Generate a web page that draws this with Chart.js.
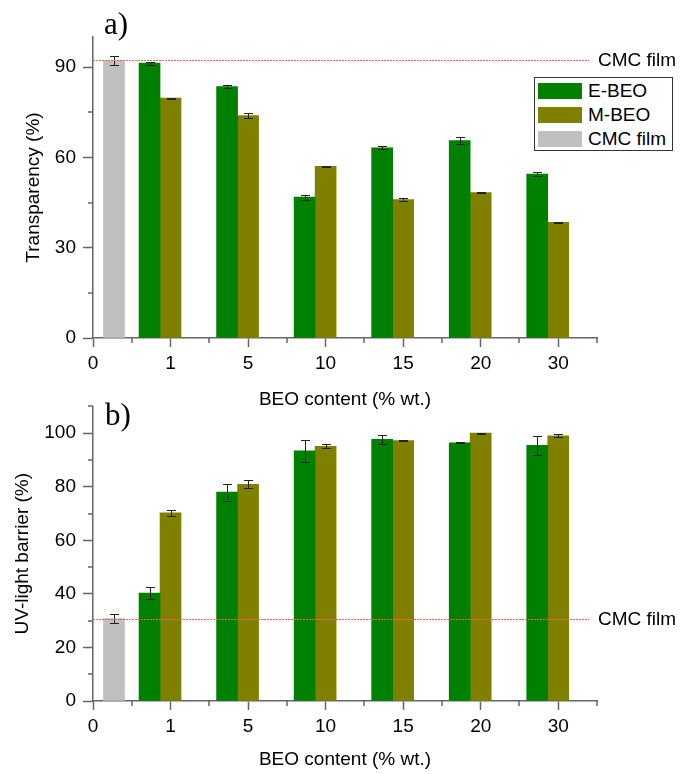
<!DOCTYPE html>
<html><head><meta charset="utf-8">
<script src="https://cdn.jsdelivr.net/npm/chart.js@4.4.1/dist/chart.umd.min.js"></script>
<style>
body{margin:0;background:#fff;width:680px;height:774px;position:relative;overflow:hidden;font-family:"Liberation Sans",Arial,sans-serif;}
.wrap{position:absolute;left:0;width:680px;}
#wa{top:0;height:415px;}
#wb{top:388px;height:386px;}
canvas{display:block;}
.panel{position:absolute;font-family:"Liberation Serif","Times New Roman",serif;font-size:31px;line-height:31px;color:#000;}
.legend{position:absolute;left:534px;top:77px;width:137px;height:72px;border:1px solid #333;background:#fff;font-size:19px;color:#000;}
.legend .row{position:absolute;left:3px;height:24px;}
.legend .sw{position:absolute;left:0;top:4px;width:44px;height:16px;}
.legend .tx{position:absolute;left:50px;top:0;line-height:24px;white-space:nowrap;}
</style>
</head><body>
<div class="wrap" id="wa"><canvas id="ca" width="680" height="415"></canvas></div>
<div class="wrap" id="wb"><canvas id="cb" width="680" height="386"></canvas></div>
<div class="panel" style="left:104px;top:8px;">a)</div>
<div class="panel" style="left:105px;top:399px;">b)</div>
<div class="legend" id="legend"></div>
<script>
// ---- data ----
const tickLabels = ['0', '1', '5', '10', '15', '20', '30'];
const beoLevels = ['1', '5', '10', '15', '20', '30'];
const seriesNames = ['E-BEO', 'M-BEO', 'CMC film'];

const transE = [91.3, 83.5, 46.8, 63.2, 65.6, 54.5];
const transEErr = [0.5, 0.6, 0.8, 0.5, 1.3, 0.7];
const transM = [79.7, 73.9, 57.0, 46.0, 48.3, 38.4];
const transMErr = [0.2, 0.8, 0.2, 0.5, 0.15, 0.1];
const transCMC = 92.2;
const transCMCErr = 1.4;

const uvE = [40.3, 78.0, 93.4, 97.7, 96.4, 95.5];
const uvEErr = [2.1, 3.2, 4.1, 1.6, 0.15, 3.6];
const uvM = [70.3, 80.9, 95.1, 97.2, 100.0, 99.0];
const uvMErr = [1.2, 1.5, 0.8, 0.15, 0.15, 0.6];
const uvCMC = 30.8;
const uvCMCErr = 1.8;

const transAxis = {max: 100, major: 30, minor: 15};
const uvAxis = {max: 110, major: 20, minor: 10};

// ---- styles ----
const colors = ['#008000', '#808000', '#c0c0c0'];
const FONT = '"Liberation Sans", Arial, sans-serif';
const AX = '#666';
Chart.defaults.font.family = FONT;
Chart.defaults.font.size = 19;
Chart.defaults.color = '#000';

const errorBars = {
  id: 'errorBars',
  afterDatasetsDraw(chart) {
    const {ctx} = chart;
    const ys = chart.scales.y;
    chart.data.datasets.forEach((ds, di) => {
      if (!ds.errors) return;
      const meta = chart.getDatasetMeta(di);
      meta.data.forEach((bar, i) => {
        const v = ds.data[i].y, e = ds.errors[i];
        const yt = Math.round(ys.getPixelForValue(v + e)) + 0.5;
        const yb = Math.round(ys.getPixelForValue(v - e)) + 0.5;
        const x = Math.round(bar.x) + 0.5;
        ctx.save();
        ctx.strokeStyle = '#222';
        ctx.lineWidth = 1;
        ctx.beginPath();
        ctx.moveTo(x, yt); ctx.lineTo(x, yb);
        ctx.moveTo(x - 4.5, yt); ctx.lineTo(x + 4.5, yt);
        ctx.moveTo(x - 4.5, yb); ctx.lineTo(x + 4.5, yb);
        ctx.stroke();
        ctx.restore();
      });
    });
  }
};

const refLine = {
  id: 'refLine',
  afterDatasetsDraw(chart, args, opts) {
    const {ctx, chartArea} = chart;
    const y = Math.round(chart.scales.y.getPixelForValue(opts.value)) + 0.5;
    ctx.save();
    ctx.strokeStyle = '#ff5a5a';
    ctx.lineWidth = 1;
    ctx.setLineDash([2, 1]);
    ctx.beginPath();
    ctx.moveTo(chartArea.left, y);
    ctx.lineTo(chartArea.right - 8, y);
    ctx.stroke();
    ctx.setLineDash([]);
    ctx.fillStyle = '#000';
    ctx.font = '19px ' + FONT;
    ctx.textBaseline = 'middle';
    ctx.textAlign = 'left';
    ctx.fillText(opts.label, chartArea.right + 1, y);
    ctx.restore();
  }
};

const minorTicks = {
  id: 'minorTicks',
  afterDraw(chart, args, opts) {
    const {ctx, chartArea} = chart;
    const xs = chart.scales.x, ys = chart.scales.y;
    ctx.save();
    ctx.strokeStyle = AX;
    ctx.lineWidth = 1.5;
    ctx.beginPath();
    for (let v = opts.x; v <= xs.max + 1e-9; v += 2 * opts.x) {
      const px = Math.round(xs.getPixelForValue(v));
      ctx.moveTo(px, chartArea.bottom);
      ctx.lineTo(px, chartArea.bottom + opts.len);
    }
    for (let v = opts.y; v <= ys.max + 1e-9; v += 2 * opts.y) {
      const py = Math.round(ys.getPixelForValue(v));
      ctx.moveTo(chartArea.left, py);
      ctx.lineTo(chartArea.left - opts.len, py);
    }
    ctx.stroke();
    ctx.restore();
  }
};

function makeChart(canvasId, cfg) {
  const pos = (lvl) => tickLabels.indexOf(lvl);
  const datasets = [
    {label: seriesNames[0], data: beoLevels.map((l, i) => ({x: pos(l), y: cfg.e[i]})), errors: cfg.eErr, backgroundColor: colors[0]},
    {label: seriesNames[1], data: beoLevels.map((l, i) => ({x: pos(l), y: cfg.m[i]})), errors: cfg.mErr, backgroundColor: colors[1]},
    {label: seriesNames[2], data: [{x: pos('0'), y: cfg.cmc}], errors: [cfg.cmcErr], backgroundColor: colors[2]}
  ];
  return new Chart(document.getElementById(canvasId), {
    type: 'bar',
    data: {datasets},
    plugins: [errorBars, refLine, minorTicks],
    options: {
      responsive: false,
      animation: false,
      barThickness: 21,
      borderWidth: 0,
      layout: {padding: {left: 0, top: cfg.padTop, right: 83, bottom: 0}},
      plugins: {
        legend: {display: false},
        tooltip: {enabled: false},
        refLine: {value: cfg.cmc, label: seriesNames[2]},
        minorTicks: {x: 0.5, y: cfg.axis.minor, len: 5}
      },
      scales: {
        x: {
          type: 'linear', min: 0, max: 6.5, offset: false,
          grid: {drawOnChartArea: false, drawTicks: true, tickLength: 9, tickColor: AX, tickWidth: 1.5, offset: false},
          border: {display: true, color: AX, width: 1.5},
          ticks: {stepSize: 1, includeBounds: false, autoSkip: false, maxRotation: 0, padding: 5, color: '#000',
            callback: (v) => tickLabels[v] !== undefined ? tickLabels[v] : ''},
          title: {display: true, text: 'BEO content (% wt.)', color: '#000', padding: {top: 0, bottom: cfg.xTitlePad}},
          afterFit: (s) => { s.height = cfg.xHeight; }
        },
        y: {
          type: 'linear', min: 0, max: cfg.axis.max,
          grid: {drawOnChartArea: false, drawTicks: true, tickLength: 10, tickColor: AX, tickWidth: 1.5},
          border: {display: true, color: AX, width: 1.5},
          ticks: {stepSize: cfg.axis.major, includeBounds: false, padding: 7, color: '#000'},
          title: {display: true, text: cfg.yTitle, color: '#000', padding: {top: cfg.yTitlePad, bottom: 0}},
          afterFit: (s) => { s.width = 93; }
        }
      }
    }
  });
}

const chartA = makeChart('ca', {
  e: transE, eErr: transEErr, m: transM, mErr: transMErr, cmc: transCMC, cmcErr: transCMCErr,
  axis: transAxis, yTitle: 'Transparency (%)', padTop: 37, xHeight: 77, xTitlePad: 3.6, yTitlePad: 22.6
});
const chartB = makeChart('cb', {
  e: uvE, eErr: uvEErr, m: uvM, mErr: uvMErr, cmc: uvCMC, cmcErr: uvCMCErr,
  axis: uvAxis, yTitle: 'UV-light barrier (%)', padTop: 11, xHeight: 73, xTitlePad: 2.6, yTitlePad: 11.6
});

// HTML legend built from chart A's datasets
const lg = document.getElementById('legend');
chartA.data.datasets.forEach((ds, i) => {
  const row = document.createElement('div');
  row.className = 'row';
  row.style.top = (1 + i * 24) + 'px';
  row.innerHTML = '<div class="sw" style="background:' + ds.backgroundColor + '"></div><div class="tx">' + ds.label + '</div>';
  lg.appendChild(row);
});
</script>
</body></html>
